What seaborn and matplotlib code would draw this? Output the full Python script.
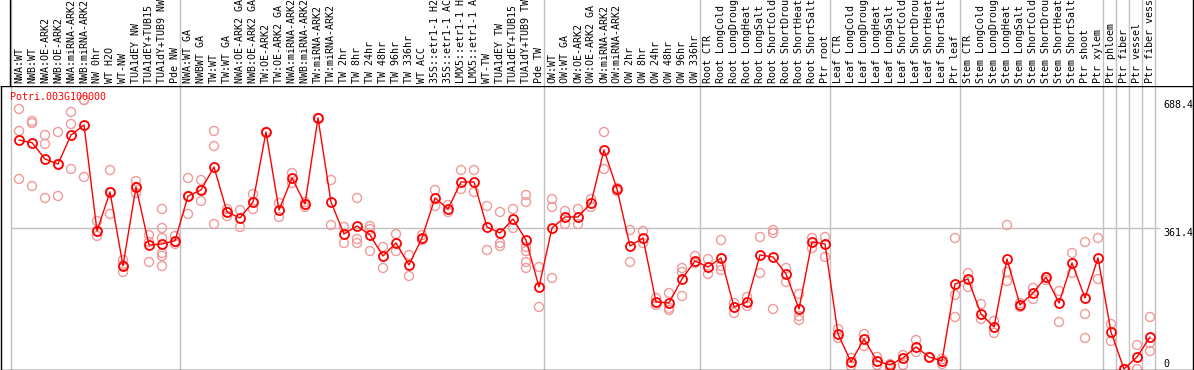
import matplotlib
matplotlib.use("Agg")
import matplotlib.pyplot as plt
import seaborn as sns
import numpy as np
import pandas as pd

gene = "Potri.003G100000"

samples = [
    "NWA:WT", "NWB:WT", "NWA:OE-ARK2", "NWB:OE-ARK2", "NWA:miRNA-ARK2", "NWB:miRNA-ARK2",
    "NW 0hr", "WT H2O", "WT-NW", "TUA1dEY NW", "TUA1dEY+TUB15 NW", "TUA1dY+TUB9 NW", "Pde NW",
    "NWA:WT GA", "NWBWT GA", "TW:WT", "TW:WT GA", "NWA:OE-ARK2 GA", "NWB:OE-ARK2 GA",
    "TW:OE-ARK2", "TW:OE-ARK2 GA", "NWA:miRNA-ARK2 GA", "NWB:miRNA-ARK2 GA", "TW:miRNA-ARK2",
    "TW:miRNA-ARK2 GA", "TW 2hr", "TW 8hr", "TW 24hr", "TW 48hr", "TW 96hr", "TW 336hr", "WT ACC",
    "35S::etr1-1 H2O", "35S::etr1-1 ACC", "LMX5::etr1-1 H2O", "LMX5::etr1-1 ACC", "WT-TW",
    "TUA1dEY TW", "TUA1dEY+TUB15 TW", "TUA1dY+TUB9 TW", "Pde TW",
    "OW:WT", "OW:WT GA", "OW:OE-ARK2", "OW:OE-ARK2 GA", "OW:miRNA-ARK2", "OW:miRNA-ARK2 GA",
    "OW 2hr", "OW 8hr", "OW 24hr", "OW 48hr", "OW 96hr", "OW 336hr",
    "Root CTR", "Root LongCold", "Root LongDrought", "Root LongHeat", "Root LongSalt",
    "Root ShortCold", "Root ShortDrought", "Root ShortHeat", "Root ShortSalt", "Ptr root",
    "Leaf CTR", "Leaf LongCold", "Leaf LongDrought", "Leaf LongHeat", "Leaf LongSalt",
    "Leaf ShortCold", "Leaf ShortDrought", "Leaf ShortHeat", "Leaf ShortSalt", "Ptr leaf",
    "Stem CTR", "Stem LongCold", "Stem LongDrought", "Stem LongHeat", "Stem LongSalt",
    "Stem ShortCold", "Stem ShortDrought", "Stem ShortHeat", "Stem ShortSalt", "Ptr shoot",
    "Ptr xylem", "Ptr phloem", "Ptr fiber", "Ptr vessel", "Ptr fiber vessel",
]

group_sizes = [13, 28, 12, 10, 10, 11, 1, 1, 1, 1]

means = [
    586.9, 580.0, 538.2, 525.4, 599.7, 625.4, 353.7, 453.7, 264.8, 466.5, 317.8, 320.4, 328.8,
    443.4, 458.8, 517.7, 402.4, 387.0, 428.0, 607.4, 407.5, 489.5, 422.9, 643.3, 428.0,
    346.0, 366.5, 343.4, 289.6, 322.9, 266.6, 335.8, 438.3, 410.1, 479.3, 479.3, 363.9,
    348.6, 384.5, 330.6, 210.2,
    361.4, 389.6, 389.6, 425.5, 561.3, 461.3, 315.2, 335.8, 171.7, 169.2, 230.7, 276.8,
    261.4, 284.5, 158.9, 171.7, 292.2, 287.1, 243.5, 153.8, 325.5, 320.4,
    89.7, 17.9, 76.9, 20.5, 10.3, 28.2, 56.4, 30.8, 20.5, 217.9,
    230.7, 141.0, 107.6, 281.9, 164.0, 194.8, 235.8, 169.2, 271.7, 182.0, 284.5,
    94.8, 0.0, 30.8, 82.0,
]

replicates = [
    [666.4, 610.0, 487.0], [635.6, 630.5, 469.0], [599.7, 576.7, 438.3], [607.4, 443.4, 525.4],
    [658.7, 627.9, 512.6], [689.4, 689.4, 492.1], [379.3, 353.7, 340.9], [510.0, 453.7, 397.3],
    [279.4, 266.0, 248.6], [481.8, 466.5, 451.1], [343.4, 325.5, 274.2],
    [410.1, 361.4, 335.8, 297.3, 289.6, 264.0], [340.9, 325.0, 320.4],
    [489.5, 443.4, 397.3], [484.4, 458.8, 430.6], [610.0, 571.5, 371.6], [410.1, 402.4, 392.1],
    [407.5, 363.9], [448.5, 428.0, 410.1], [607.4, 607.4], [425.5, 389.6], [502.3, 476.7],
    [428.0, 415.2], [643.3, 643.3], [484.4, 369.1], [363.9, 322.9], [438.3, 333.2, 322.9],
    [366.5, 358.8, 302.4], [312.7, 258.9], [346.0, 302.4], [292.2, 238.4], [343.4, 330.6],
    [458.8, 417.8], [420.3, 402.4], [510.0, 461.3], [510.0, 453.7], [417.8, 305.0],
    [402.4, 322.9, 315.2], [410.1, 361.4], [446.0, 428.0, 312.7, 302.4, 274.2, 258.9],
    [261.4, 158.9],
    [435.7, 415.2, 233.2], [404.9, 371.6], [410.1, 371.6], [435.7, 415.2], [607.4, 512.6],
    [463.9, 456.2], [356.3, 274.2], [353.7, 322.9], [182.0, 164.0], [194.8, 156.3, 151.2],
    [258.9, 248.6, 187.1], [289.6, 271.7],
    [281.9, 243.5], [330.6, 264.0, 253.7], [169.2, 143.5], [184.5, 161.5], [338.3, 246.0],
    [356.3, 348.6, 153.8], [258.9, 223.0], [192.2, 135.8, 125.6], [335.8, 310.1], [338.3, 287.1],
    [102.5, 79.5], [28.2, 7.7], [89.7, 58.9], [30.8, 10.3], [12.8, 2.6], [35.9, 10.3],
    [74.3, 43.6], [30.8, 30.8], [25.6, 12.8], [335.8, 189.7, 133.3],
    [246.0, 210.2], [166.6, 128.2], [123.0, 92.3], [369.1, 248.6, 225.5], [169.2, 158.9],
    [207.6, 179.4], [235.8, 228.1], [199.9, 120.5], [297.3, 246.0], [325.5, 141.0, 79.5],
    [335.8, 230.7],
    [115.3, 71.8], [0.0, 0.0], [61.5, 0.0], [133.3, 66.6, 46.1],
]

ytick_values = [688.4, 361.4, 0]

rep_df = pd.DataFrame(
    [(i, v) for i, reps in enumerate(replicates) for v in reps], columns=["idx", "value"]
)
mean_df = pd.DataFrame({"idx": np.arange(len(samples)), "value": means})

sns.set_style("white")
plt.rcParams["font.family"] = ["DejaVu Sans Mono"]
fs = 7.2

W, H = 1194, 370
fig = plt.figure(figsize=(W / 100, H / 100), dpi=100)
header_h = 86
ax = fig.add_axes([1 / W, 0, 1192 / W, (H - header_h) / H])
hdr = fig.add_axes([1 / W, (H - header_h) / H, 1192 / W, header_h / H], sharex=ax)

# 13 px per sample, first sample at x = 19 px
xmin = -18 / 13
xmax = xmin + 1192 / 13
ax.set_xlim(xmin, xmax)
ax.set_ylim(-2.6, 725.3)

# group separators
bounds = np.cumsum([0] + group_sizes) - 1 + 0.4
for b in bounds:
    ax.axvline(b, color="#c0c0c0", lw=1.0, zorder=0)
    hdr.axvline(b, color="#c0c0c0", lw=1.0, zorder=0)
hdr.axvline(bounds[0] - 0.07, color="black", lw=1.0)
ax.hlines(ytick_values[1], bounds[0], 87.8, color="#c0c0c0", lw=1.0, zorder=0)

sns.scatterplot(data=rep_df, x="idx", y="value", ax=ax, marker="o", s=42,
                facecolors="none", edgecolor="#f09a9a", linewidth=1.0, zorder=2)
sns.lineplot(data=mean_df, x="idx", y="value", ax=ax, color="red", linewidth=1.0,
             marker="o", markersize=6.5, markerfacecolor="none", markeredgecolor="red",
             markeredgewidth=1.3, zorder=3)

for v in ytick_values:
    ax.text(88.0, v, f"{v}" if v else "0", fontsize=fs, color="black",
            ha="left", va="top" if v else "bottom")

ax.text(bounds[0] - 0.1, 697, gene, color="red", fontsize=fs, ha="left", va="center")

for i, s in enumerate(samples):
    hdr.text(i, 3 / header_h, s, rotation=90, ha="center", va="bottom",
             fontsize=fs, color="black")

ax.set_xlabel("")
ax.set_ylabel("")
ax.set_xticks([])
ax.set_yticks([])
for sp in ax.spines.values():
    sp.set_color("black")
    sp.set_linewidth(1.0)
hdr.set_ylim(0, 1)
hdr.set_xticks([])
hdr.set_yticks([])
for name, sp in hdr.spines.items():
    sp.set_visible(name == "right")
    sp.set_color("black")
    sp.set_linewidth(1.0)

fig.savefig("out.png", dpi=100)
